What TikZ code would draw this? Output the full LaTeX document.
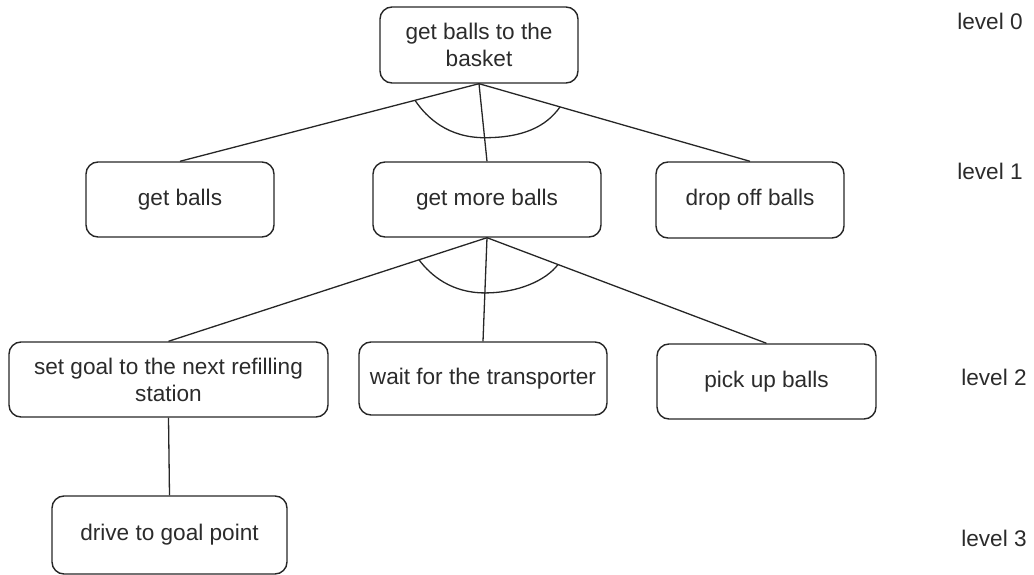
\documentclass[tikz,border=0pt]{standalone}
\usepackage{fontspec}
\setmainfont{Liberation Sans}
\usetikzlibrary{calc}
\definecolor{ink}{HTML}{2B2B2B}
\definecolor{edge}{HTML}{262626}
\begin{document}
\begin{tikzpicture}[x=1pt,y=-1pt,
  task/.style={draw=edge, line width=1.4pt, rounded corners=12pt, align=center,
    inner sep=0pt, text=ink, font=\fontsize{22.6}{27}\selectfont},
  link/.style={draw=edge, line width=1.3pt},
  lvl/.style={text=ink, inner sep=0pt, font=\fontsize{22.6}{27}\selectfont}]
\useasboundingbox (0,0) rectangle (1034,575);

% task boxes
\node[task, minimum width=198pt, minimum height=76pt] (top) at (479,45) {get balls to the\\basket};
\node[task, minimum width=188pt, minimum height=75pt] (getballs) at (180,199.5) {get balls};
\node[task, minimum width=228pt, minimum height=75pt] (getmore) at (487,199.5) {get more balls};
\node[task, minimum width=188pt, minimum height=76pt] (dropoff) at (750,200) {drop off balls};
\node[task, minimum width=319pt, minimum height=75pt] (setgoal) at (168.5,379.5) {set goal to the next refilling\\station};
\node[task, minimum width=248pt, minimum height=73pt] (wait) at (483,378.5) {wait for the transporter};
\node[task, minimum width=219pt, minimum height=75pt] (pickup) at (766.5,381.5) {pick up balls};
\node[task, minimum width=235pt, minimum height=78pt] (drive) at (169.5,535) {drive to goal point};

% level labels
\node[lvl] (l0) at (990,21) {level 0};
\node[lvl] (l1) at (990,171) {level 1};
\node[lvl] (l2) at (994,377) {level 2};
\node[lvl] (l3) at (994,538) {level 3};

% decomposition links
\draw[link] (top.south) -- (getballs.north);
\draw[link] (top.south) -- (getmore.north);
\draw[link] (top.south) -- (dropoff.north);
\draw[link] (getmore.south) -- (setgoal.north);
\draw[link] (getmore.south) -- (wait.north);
\draw[link] (getmore.south) -- (pickup.north);
\draw[link] (setgoal.south) -- (drive.north);

% AND arcs across the links
\coordinate (a1) at ($(top.south)!0.214!(getballs.north)$);
\coordinate (b1) at ($(top.south)!0.696!(getmore.north)$);
\coordinate (c1) at ($(top.south)!0.299!(dropoff.north)$);
\draw[link] (a1) .. controls +(12,18) and +(-36,0) .. (b1)
               .. controls +(38,0) and +(-14,20) .. (c1);

\coordinate (a2) at ($(getmore.south)!0.2135!(setgoal.north)$);
\coordinate (b2) at ($(getmore.south)!0.533!(wait.north)$);
\coordinate (c2) at ($(getmore.south)!0.254!(pickup.north)$);
\draw[link] (a2) .. controls +(12,16) and +(-33,0) .. (b2)
               .. controls +(33,0) and +(-12,16) .. (c2);
\end{tikzpicture}
\end{document}
